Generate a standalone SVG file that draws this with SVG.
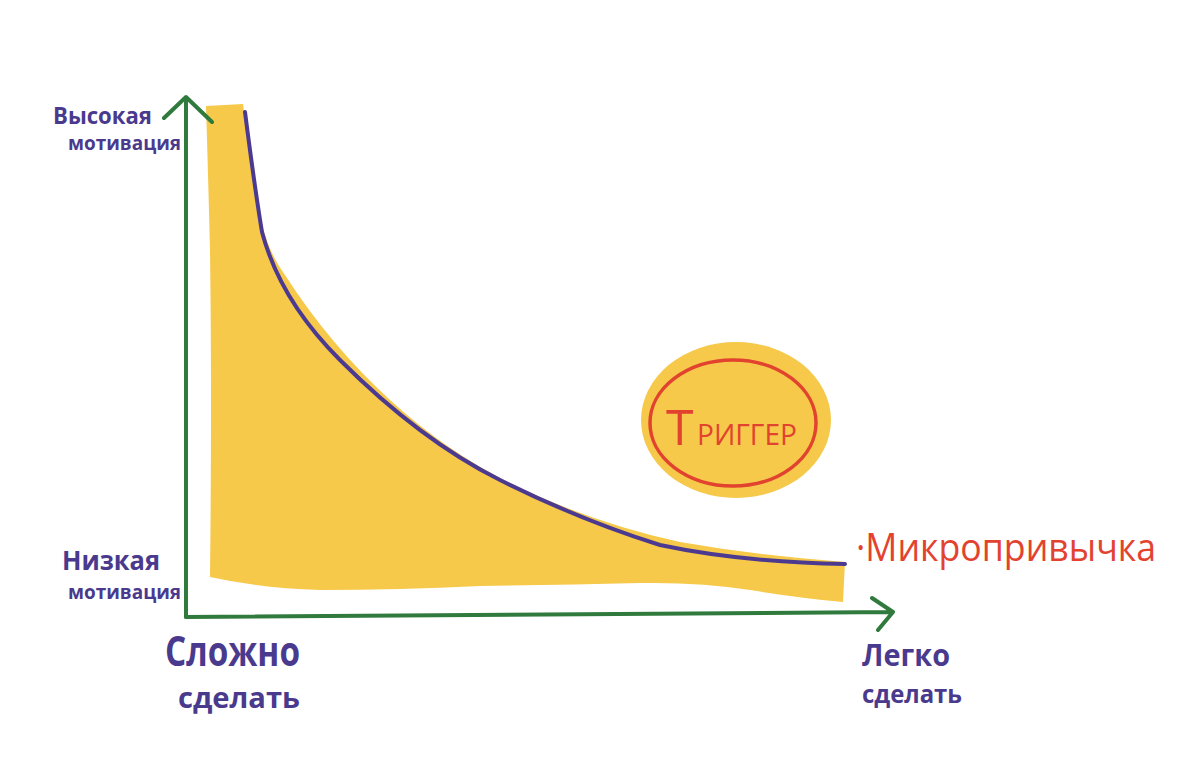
<svg xmlns="http://www.w3.org/2000/svg" width="1200" height="780" viewBox="0 0 1200 780">
<style>
.ax{stroke:#2f7a3c;stroke-width:4;fill:none;stroke-linecap:round;stroke-linejoin:round}
.pl{fill:#4a3a8e;font-family:"Open Sans","DejaVu Sans",sans-serif;font-weight:700}
.rd{fill:#e2432f;font-family:"Open Sans","DejaVu Sans",sans-serif}
.yl{fill:#f6c94b}
</style>
<rect width="1200" height="780" fill="#ffffff"/>
<g id="area">
<path class="yl" d="M206,106 L243,104 Q250,160 262,225 Q270,255 285,275 Q330,345 390,400 Q450,455 520,488 Q600,525 680,542 Q760,556 845,562 L843,602 Q800,598 750,590 Q700,582 640,583 Q560,585 480,586 Q400,590 320,590 Q260,588 210,577 Q212,400 210,250 Q208,170 206,106 Z"/>
</g>
<g id="curve">
<path d="M245,112 Q255,190 262,232 Q280,300 340,360 Q420,440 500,480 Q580,520 660,545 Q740,562 845,564" fill="none" stroke="#4b3a90" stroke-width="4" stroke-linecap="round"/>
</g>
<g id="connectors">
<path class="ax" d="M186,617 L186,98 M164,118 L186,97 L212,122"/>
<path class="ax" d="M186,617 L893,612 M872,598 L893,612 L878,630"/>
</g>
<g id="trigger">
<ellipse class="yl" cx="736" cy="420" rx="95" ry="78"/>
<ellipse cx="733" cy="423" rx="83" ry="63" fill="none" stroke="#e2432f" stroke-width="3.5"/>
<text class="rd" x="666" y="445" font-size="50" font-weight="400">Т</text>
<text class="rd" x="697" y="445" font-size="30" font-weight="400" textLength="100" lengthAdjust="spacingAndGlyphs">РИГГЕР</text>
</g>
<g id="micro">
<text class="rd" x="856" y="561" font-size="38" font-weight="400" textLength="300" lengthAdjust="spacingAndGlyphs">·Микропривычка</text>
</g>
<g id="ylabels">
<text class="pl" x="53" y="124" font-size="24" textLength="99" lengthAdjust="spacingAndGlyphs">Высокая</text>
<text class="pl" x="68" y="150" font-size="20" textLength="113" lengthAdjust="spacingAndGlyphs">мотивация</text>
<text class="pl" x="62" y="570" font-size="26" font-weight="600" textLength="98" lengthAdjust="spacingAndGlyphs">Низкая</text>
<text class="pl" x="68" y="599" font-size="20" textLength="113" lengthAdjust="spacingAndGlyphs">мотивация</text>
</g>
<g id="xlabels">
<text class="pl" x="165" y="666" font-size="42" font-weight="600" textLength="135" lengthAdjust="spacingAndGlyphs">Сложно</text>
<text class="pl" x="178" y="708" font-size="28" font-weight="600" textLength="122" lengthAdjust="spacingAndGlyphs">сделать</text>
<text class="pl" x="862" y="666" font-size="30" font-weight="600" textLength="88" lengthAdjust="spacingAndGlyphs">Легко</text>
<text class="pl" x="862" y="703" font-size="25" font-weight="600" textLength="100" lengthAdjust="spacingAndGlyphs">сделать</text>
</g>
</svg>
